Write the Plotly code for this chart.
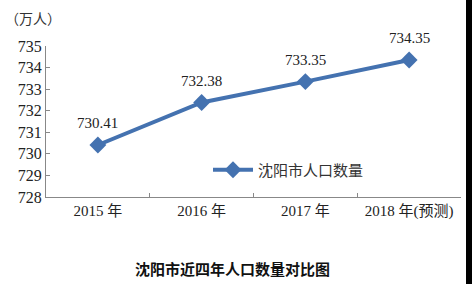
import plotly.graph_objects as go

categories = ["2015 年", "2016 年", "2017 年", "2018 年(预测)"]
population = [730.41, 732.38, 733.35, 734.35]
label_text = ["730.41", "732.38", "733.35", "734.35"]
y_ticks = [728, 729, 730, 731, 732, 733, 734, 735]
series_name = "沈阳市人口数量"
title_text = "沈阳市近四年人口数量对比图"
unit_text = "（万人）"

W, H = 472, 284
L, R, T, B = 46, 11, 46, 87
PW, PH = W - L - R, H - T - B


def px(x):
    return (x - L) / PW


def py(y):
    return ((H - B) - y) / PH


color = "#4472B0"
serif = "Liberation Serif, Noto Sans CJK SC, serif"
cjk = "Noto Sans CJK SC, sans-serif"

fig = go.Figure()
fig.add_trace(go.Scatter(
    x=categories, y=population, mode="lines+markers", name=series_name,
    line=dict(color=color, width=4),
    marker=dict(symbol="diamond", size=13, color=color),
    showlegend=True,
))
for c, v, t in zip(categories, population, label_text):
    fig.add_annotation(x=c, y=v, text=t, showarrow=False, yshift=22,
                       font=dict(family=serif, size=15, color="#222"))

fig.add_annotation(xref="paper", yref="paper", x=px(3), y=py(18),
                   text=unit_text, showarrow=False, xanchor="left", yanchor="middle",
                   font=dict(family=cjk, size=14, color="#333"))
fig.add_annotation(xref="paper", yref="paper", x=px(232), y=py(268),
                   text="<b>" + title_text + "</b>", showarrow=False,
                   xanchor="center", yanchor="middle",
                   font=dict(family=cjk, size=15, color="#111"))
# black right border strip
fig.add_shape(type="rect", xref="paper", yref="paper",
              x0=px(466), x1=px(474), y0=py(290), y1=py(-6),
              fillcolor="#000", line=dict(width=0), layer="above")

fig.update_layout(
    width=W, height=H, margin=dict(l=L, r=R, t=T, b=B),
    paper_bgcolor="white", plot_bgcolor="white",
    font=dict(family=serif, size=15, color="#222"),
    legend=dict(x=px(208), y=py(170),
                xanchor="left", yanchor="middle", bgcolor="rgba(0,0,0,0)",
                font=dict(family=cjk, size=15, color="#333"),
                itemwidth=40),
    xaxis=dict(showgrid=False, showline=True, linecolor="#888", linewidth=1,
               ticks="inside", ticklen=4, tickcolor="#888", tickson="boundaries",
               tickfont=dict(family=serif, size=15, color="#222"),
               range=[-0.5, 3.5]),
    yaxis=dict(showgrid=False, showline=True, linecolor="#888", linewidth=1,
               ticks="inside", ticklen=4, tickcolor="#888",
               tickvals=y_ticks, range=[728, 735],
               tickfont=dict(family=serif, size=16, color="#222"),
               zeroline=False),
)

fig.write_html("out.html")
